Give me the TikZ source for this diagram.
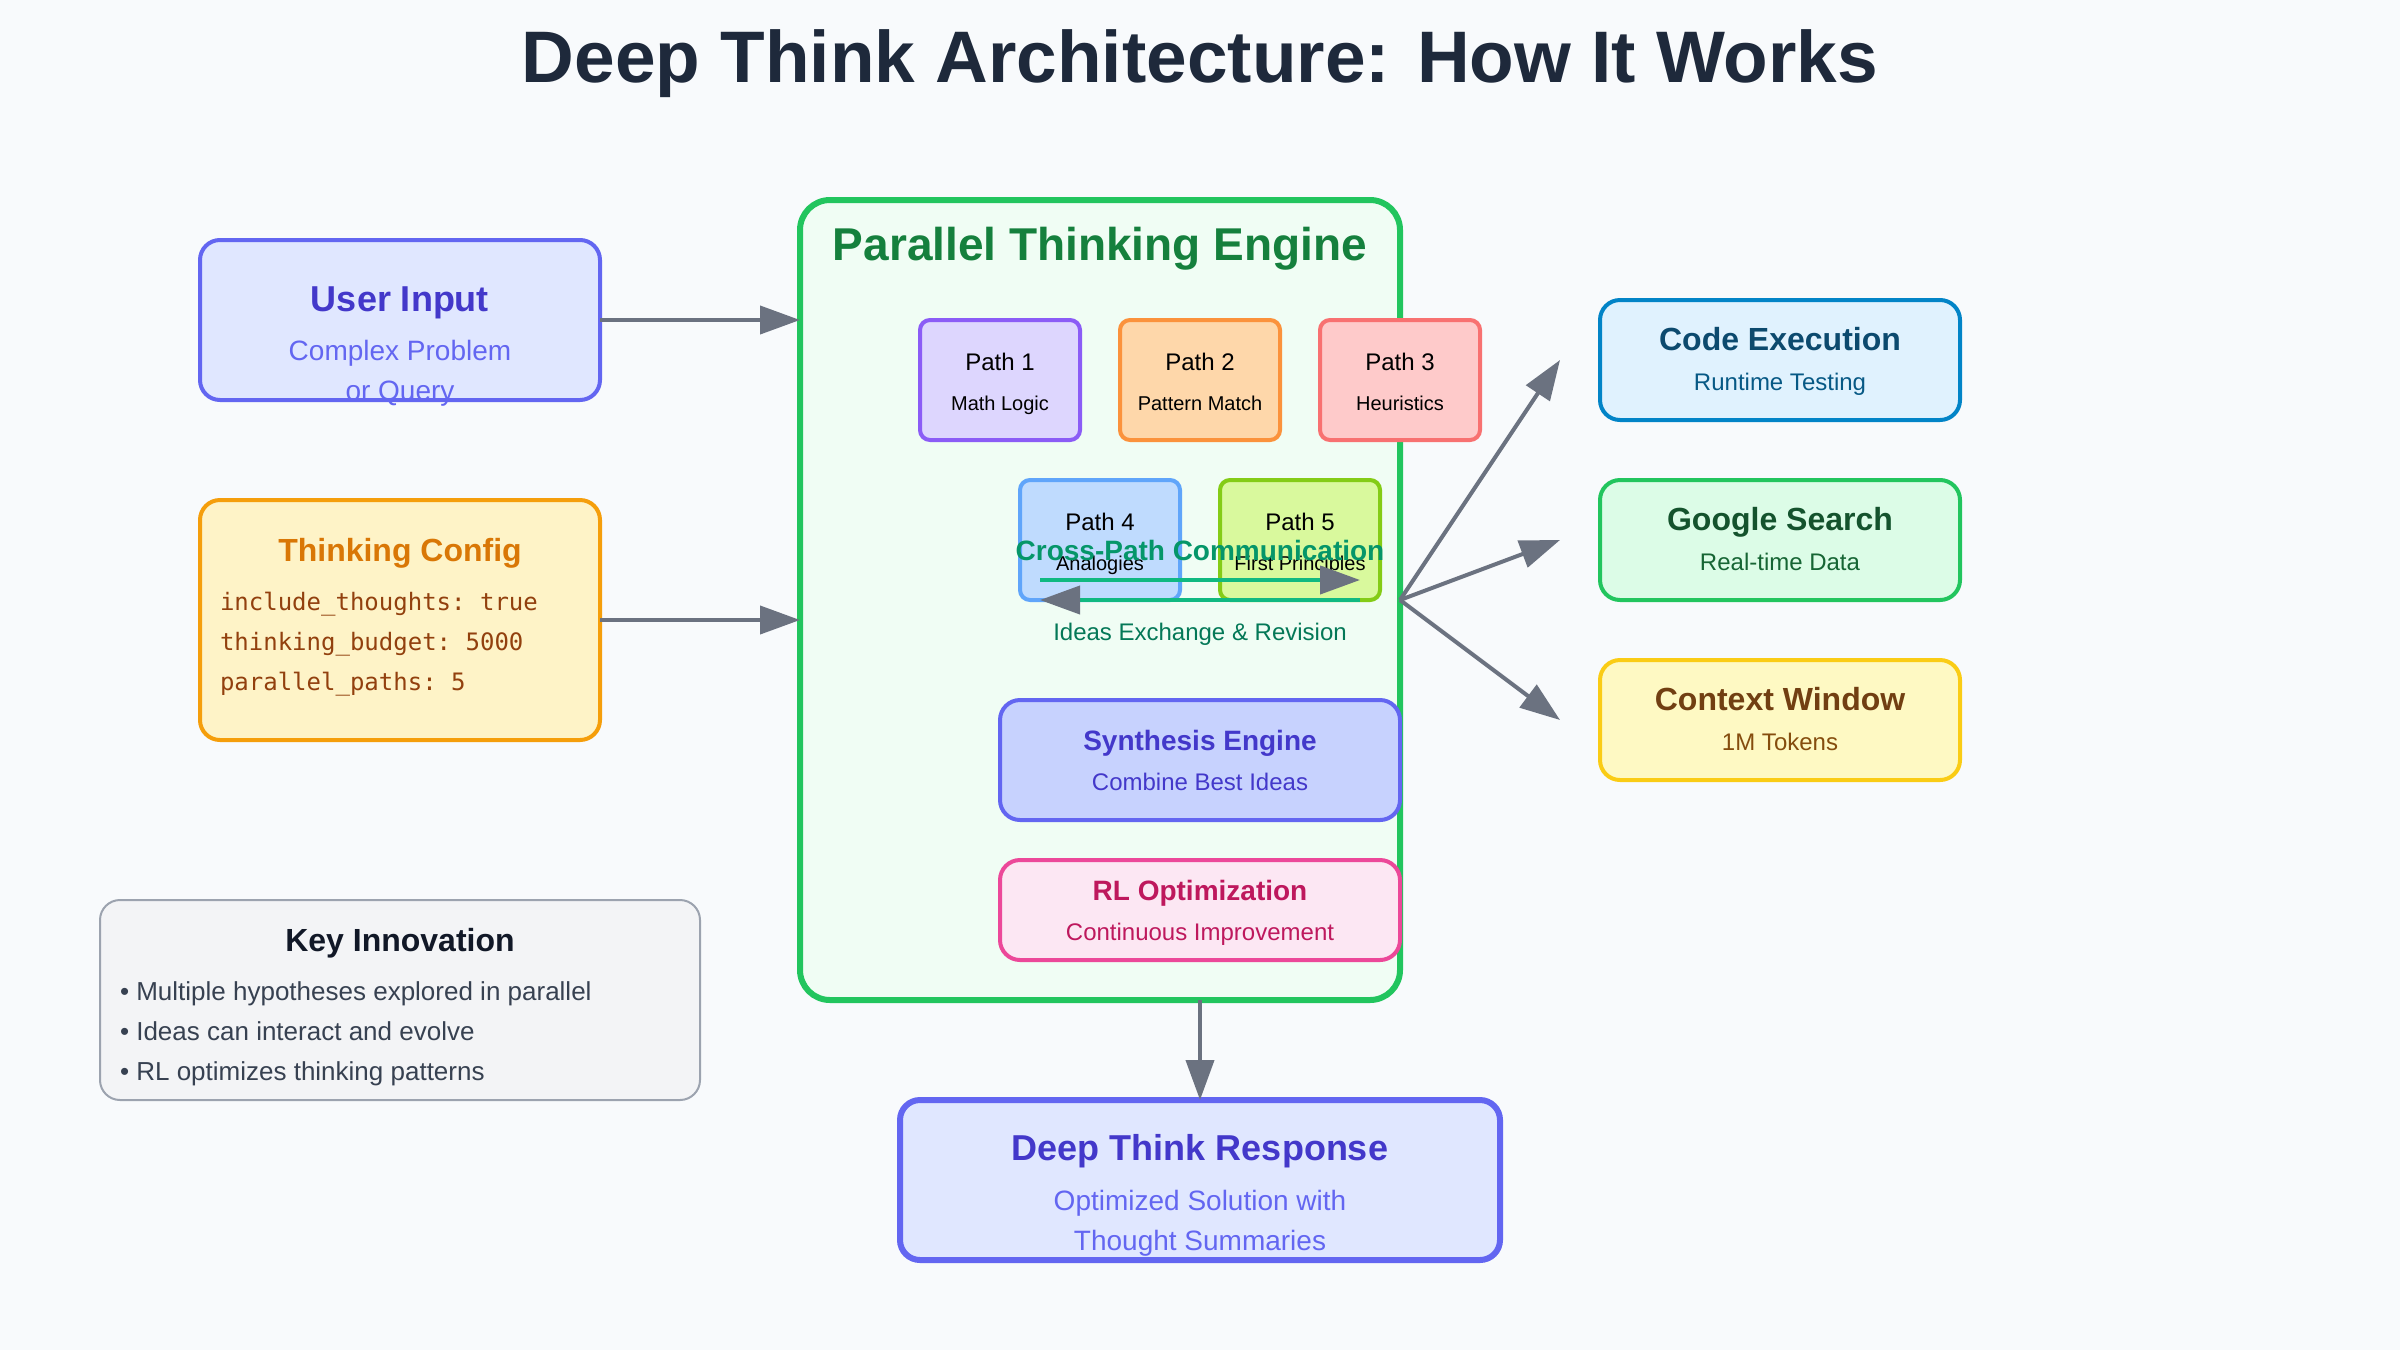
\documentclass[tikz,border=0pt]{standalone}
\usepackage{fontspec}
\setmainfont{Liberation Sans}
\setmonofont{DejaVu Sans Mono}
\usetikzlibrary{arrows.meta}
\definecolor{bgc}{HTML}{F8FAFC}
\definecolor{titlec}{HTML}{1E293B}
\definecolor{uifill}{HTML}{E0E7FF}
\definecolor{indigo}{HTML}{6366F1}
\definecolor{indigodark}{HTML}{4338CA}
\definecolor{cfgfill}{HTML}{FEF3C7}
\definecolor{cfgstroke}{HTML}{F59E0B}
\definecolor{cfgtitle}{HTML}{D97706}
\definecolor{cfgcode}{HTML}{92400E}
\definecolor{arrowgray}{HTML}{6B7280}
\definecolor{engfill}{HTML}{F0FDF4}
\definecolor{engstroke}{HTML}{22C55E}
\definecolor{engtitle}{HTML}{15803D}
\definecolor{pafill}{HTML}{DDD6FE}\definecolor{pastroke}{HTML}{8B5CF6}
\definecolor{pbfill}{HTML}{FED7AA}\definecolor{pbstroke}{HTML}{FB923C}
\definecolor{pcfill}{HTML}{FECACA}\definecolor{pcstroke}{HTML}{F87171}
\definecolor{pdfill}{HTML}{BFDBFE}\definecolor{pdstroke}{HTML}{60A5FA}
\definecolor{pefill}{HTML}{D9F99D}\definecolor{pestroke}{HTML}{84CC16}
\definecolor{crosstext}{HTML}{059669}
\definecolor{crossline}{HTML}{10B981}
\definecolor{ideastext}{HTML}{047857}
\definecolor{cefill}{HTML}{E0F2FE}\definecolor{cestroke}{HTML}{0284C7}
\definecolor{cetitle}{HTML}{0C4A6E}\definecolor{cesub}{HTML}{075985}
\definecolor{gsfill}{HTML}{DCFCE7}\definecolor{gsstroke}{HTML}{22C55E}
\definecolor{gstitle}{HTML}{14532D}\definecolor{gssub}{HTML}{166534}
\definecolor{cwfill}{HTML}{FEF9C3}\definecolor{cwstroke}{HTML}{FACC15}
\definecolor{cwtitle}{HTML}{713F12}\definecolor{cwsub}{HTML}{854D0E}
\definecolor{synfill}{HTML}{C7D2FE}
\definecolor{rlfill}{HTML}{FCE7F3}\definecolor{rlstroke}{HTML}{EC4899}
\definecolor{rltext}{HTML}{BE185D}
\definecolor{keyfill}{HTML}{F3F4F6}\definecolor{keystroke}{HTML}{9CA3AF}
\definecolor{keytitle}{HTML}{111827}\definecolor{keytext}{HTML}{374151}
\newcommand\myfs[1]{\fontsize{#1pt}{#1pt}\selectfont}
\begin{document}
\begin{tikzpicture}[x=1pt,y=-1pt,
  box/.style={draw, rectangle, inner sep=0pt, outer sep=0pt, anchor=north west, line width=4pt, rounded corners=20pt},
  pathbox/.style={box, rounded corners=10pt, minimum width=160pt, minimum height=120pt},
  sidebox/.style={box, minimum width=360pt, minimum height=120pt},
  lbl/.style={anchor=base, inner sep=0pt, outer sep=0pt},
  lblw/.style={anchor=base west, inner sep=0pt, outer sep=0pt},
  arr/.style={draw=arrowgray, line width=4pt, -{Triangle[length=40pt,width=28pt]}},
  crossarr/.style={draw=crossline, line width=4pt, -{Triangle[length=40pt,width=28pt,color=arrowgray,fill=arrowgray]}},
]
\useasboundingbox (0,0) rectangle (2400,1350);
\fill[bgc] (0,0) rectangle (2400,1350);

% title
\node[lbl, text=titlec, font=\bfseries\myfs{73}] (title) at (1200,82) {Deep Think Architecture: How It Works};

% user input
\node[box, fill=uifill, draw=indigo, minimum width=400pt, minimum height=160pt] (ui) at (200,240) {};
\node[lbl, text=indigodark, font=\bfseries\myfs{36}] (uit) at (400,311) {User Input};
\node[lbl, text=indigo, font=\myfs{28}] (uis1) at (400,360) {Complex Problem};
\node[lbl, text=indigo, font=\myfs{28}] (uis2) at (400,400) {or Query};

% thinking config
\node[box, fill=cfgfill, draw=cfgstroke, minimum width=400pt, minimum height=240pt] (cfg) at (200,500) {};
\node[lbl, text=cfgtitle, font=\bfseries\myfs{32}] (cfgt) at (400,561) {Thinking Config};
\node[lblw, text=cfgcode, font=\ttfamily\myfs{24}] (cfg1) at (220,610) {include\_thoughts: true};
\node[lblw, text=cfgcode, font=\ttfamily\myfs{24}] (cfg2) at (220,650) {thinking\_budget: 5000};
\node[lblw, text=cfgcode, font=\ttfamily\myfs{24}] (cfg3) at (220,690) {parallel\_paths: 5};

% engine container
\node[box, fill=engfill, draw=engstroke, line width=6pt, rounded corners=30pt, minimum width=600pt, minimum height=800pt] (eng) at (800,200) {};
\node[lbl, text=engtitle, font=\bfseries\myfs{46}] (engt) at (1100,260) {Parallel Thinking Engine};

% arrows into engine
\draw[arr] (ui.east) -- (ui.east -| eng.west);
\draw[arr] (cfg.east) -- (cfg.east -| eng.west);

% paths
\node[pathbox, fill=pafill, draw=pastroke] (p1) at (920,320) {};
\node[pathbox, fill=pbfill, draw=pbstroke] (p2) at (1120,320) {};
\node[pathbox, fill=pcfill, draw=pcstroke] (p3) at (1320,320) {};
\node[pathbox, fill=pdfill, draw=pdstroke] (p4) at (1020,480) {};
\node[pathbox, fill=pefill, draw=pestroke] (p5) at (1220,480) {};
\foreach \n/\x/\y/\a/\b in {p1/1000/370/Path 1/Math Logic, p2/1200/370/Path 2/Pattern Match, p3/1400/370/Path 3/Heuristics, p4/1100/530/Path 4/Analogies, p5/1300/530/Path 5/First Principles}{
  \node[lbl, text=black, font=\myfs{24}] (\n t) at (\x,\y) {\a};
  \node[lbl, text=black, font=\myfs{20}] (\n s) at (\x,\y+40) {\b};
}

% cross-path communication
\node[lbl, text=crosstext, font=\bfseries\myfs{28}] (cross) at (1200,560) {Cross-Path Communication};
\coordinate (cl) at (1040,580);
\coordinate (cr) at (1360,580);
\coordinate (bl) at (1040,600);
\coordinate (br) at (1360,600);
\draw[crossarr] (cl) -- (cr);
\draw[crossarr] (br) -- (bl);
\node[lbl, text=ideastext, font=\myfs{24}] (ideas) at (1200,640) {Ideas Exchange \& Revision};

% synthesis and RL
\node[box, fill=synfill, draw=indigo, minimum width=400pt, minimum height=120pt] (syn) at (1000,700) {};
\node[lbl, text=indigodark, font=\bfseries\myfs{28}] (synt) at (1200,750) {Synthesis Engine};
\node[lbl, text=indigodark, font=\myfs{24}] (syns) at (1200,790) {Combine Best Ideas};
\node[box, fill=rlfill, draw=rlstroke, minimum width=400pt, minimum height=100pt] (rl) at (1000,860) {};
\node[lbl, text=rltext, font=\bfseries\myfs{28}] (rlt) at (1200,900) {RL Optimization};
\node[lbl, text=rltext, font=\myfs{24}] (rls) at (1200,940) {Continuous Improvement};

% tools
\node[sidebox, fill=cefill, draw=cestroke] (ce) at (1600,300) {};
\node[lbl, text=cetitle, font=\bfseries\myfs{32}] (cet) at (1780,350) {Code Execution};
\node[lbl, text=cesub, font=\myfs{24}] (ces) at (1780,390) {Runtime Testing};
\node[sidebox, fill=gsfill, draw=gsstroke] (gs) at (1600,480) {};
\node[lbl, text=gstitle, font=\bfseries\myfs{32}] (gst) at (1780,530) {Google Search};
\node[lbl, text=gssub, font=\myfs{24}] (gss) at (1780,570) {Real-time Data};
\node[sidebox, fill=cwfill, draw=cwstroke] (cw) at (1600,660) {};
\node[lbl, text=cwtitle, font=\bfseries\myfs{32}] (cwt) at (1780,710) {Context Window};
\node[lbl, text=cwsub, font=\myfs{24}] (cws) at (1780,750) {1M Tokens};

\coordinate (fan) at (1400,600);
\coordinate (fa) at (1560,360);
\coordinate (fb) at (1560,540);
\coordinate (fc) at (1560,720);
\draw[arr] (fan) -- (fa);
\draw[arr] (fan) -- (fb);
\draw[arr] (fan) -- (fc);

% response
\node[box, fill=uifill, draw=indigo, line width=6pt, minimum width=600pt, minimum height=160pt] (resp) at (900,1100) {};
\node[lbl, text=indigodark, font=\bfseries\myfs{36}] (respt) at (1200,1160) {Deep Think Response};
\node[lbl, text=indigo, font=\myfs{28}] (resps1) at (1200,1210) {Optimized Solution with};
\node[lbl, text=indigo, font=\myfs{28}] (resps2) at (1200,1250) {Thought Summaries};
\draw[arr] (resp.north |- eng.south) -- (resp.north);

% key innovation
\node[box, fill=keyfill, draw=keystroke, line width=2pt, minimum width=600pt, minimum height=200pt] (key) at (100,900) {};
\node[lbl, text=keytitle, font=\bfseries\myfs{32}] (keyt) at (400,951) {Key Innovation};
\node[lblw, text=keytext, font=\myfs{26}] (k1) at (120,1000) {• Multiple hypotheses explored in parallel};
\node[lblw, text=keytext, font=\myfs{26}] (k2) at (120,1040) {• Ideas can interact and evolve};
\node[lblw, text=keytext, font=\myfs{26}] (k3) at (120,1080) {• RL optimizes thinking patterns};
\end{tikzpicture}
\end{document}
